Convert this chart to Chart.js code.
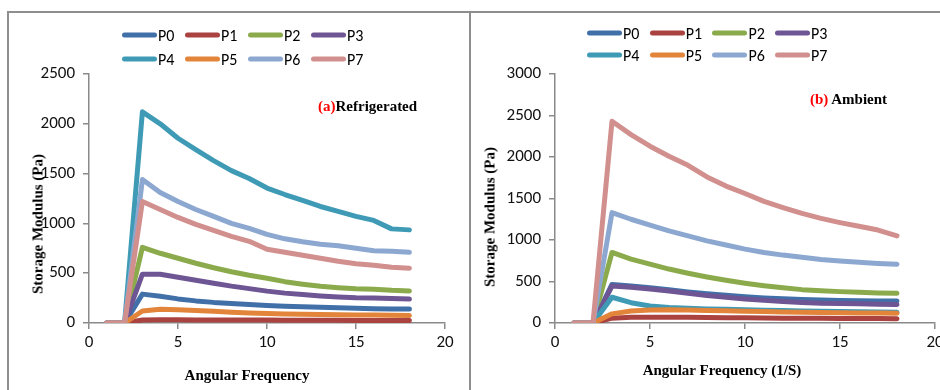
<!DOCTYPE html>
<html>
<head>
<meta charset="utf-8">
<script src="https://cdn.jsdelivr.net/npm/chart.js@4/dist/chart.umd.min.js"></script>
<style>
  html, body { margin:0; padding:0; width:940px; height:390px; overflow:hidden; background:#fff; }
  .abs { position:absolute; }
  .panelL { left:7px; top:11px; width:460px; height:400px; border:2px solid #8e8e8e; box-sizing:content-box; }
  .panelR { left:469px; top:11px; width:500px; height:0; border-top:2px solid #8e8e8e; }
  .serif { font-family:"Liberation Serif","Times New Roman",serif; font-weight:bold; color:#000; white-space:nowrap; }
  .ytitle { font-size:15px; transform:translate(-50%,-50%) rotate(-90deg); }
  .xtitle { font-size:15px; transform:translate(-50%,-50%); }
  .note { font-size:15px; transform:translateY(-50%); }
  .red { color:#ff0000; }
  .leg { font-family:Carlito, Lato, "Open Sans", sans-serif; font-size:16px; color:#000; display:flex; align-items:center; transform:translateY(-50%); }
  .sw { width:35px; height:5px; border-radius:3px; margin-right:1px; }
  canvas { position:absolute; }
</style>
</head>
<body>
<div class="abs panelL"></div>
<div class="abs panelR"></div>
<div id="cL" class="abs" style="left:0;top:0;width:470px;height:390px;"><canvas id="chartL"></canvas></div>
<div id="cR" class="abs" style="left:470px;top:0;width:500px;height:390px;"><canvas id="chartR"></canvas></div>
<div class="abs serif ytitle" style="left:38px;top:224px;">Storage Modulus (Pa)</div>
<div class="abs serif ytitle" style="left:490px;top:217px;">Storage Modulus (Pa)</div>
<div class="abs serif xtitle" style="left:247px;top:375px;">Angular Frequency</div>
<div class="abs serif xtitle" style="left:722px;top:370px;">Angular Frequency (1/S)</div>
<div class="abs serif note" style="left:318px;top:106px;"><span class="red">(a)</span>Refrigerated</div>
<div class="abs serif note" style="left:810px;top:99px;"><span class="red">(b)</span> Ambient</div>
<div id="legL"></div>
<div id="legR"></div>
<script>
// ---- data ----
const xValues = [1,2,3,4,5,6,7,8,9,10,11,12,13,14,15,16,17,18];
const seriesNames = ['P0','P1','P2','P3','P4','P5','P6','P7'];
const seriesColors = ['#4170A9','#AA4240','#8BAA4B','#6E5593','#3F9BB5','#E2843A','#8CA8D0','#D18F8D'];

// (a) Refrigerated
const refP0 = [0,0,290,268,242,222,207,196,186,176,168,162,157,152,147,143,140,140];
const refP1 = [0,0,30,32,32,31,30,30,29,29,28,28,27,27,26,26,25,25];
const refP2 = [0,0,760,700,650,600,555,515,480,450,415,390,368,355,343,338,328,322];
const refP3 = [0,0,490,490,460,430,400,370,345,320,300,285,272,262,253,250,246,240];
const refP4 = [0,0,2120,2000,1855,1740,1630,1530,1450,1355,1290,1230,1170,1120,1070,1030,945,935];
const refP5 = [0,0,120,137,133,126,117,108,101,96,91,88,85,83,81,80,78,76];
const refP6 = [0,0,1440,1310,1220,1140,1070,1000,950,890,845,815,790,775,750,725,720,710];
const refP7 = [0,0,1220,1140,1060,990,930,870,820,740,710,680,650,620,595,580,560,550];

// (b) Ambient
const ambP0 = [0,0,465,445,425,400,375,352,333,316,302,292,283,277,272,268,266,264];
const ambP1 = [0,0,58,68,70,70,68,66,64,62,60,58,57,56,55,54,53,52];
const ambP2 = [0,0,850,770,710,650,600,555,515,480,450,425,402,388,378,370,362,358];
const ambP3 = [0,0,445,430,410,385,358,330,310,290,275,260,247,238,235,232,226,222];
const ambP4 = [0,0,310,245,205,188,178,170,165,160,155,150,146,142,139,136,133,130];
const ambP5 = [0,0,110,145,157,160,157,152,148,143,138,134,130,127,124,121,119,117];
const ambP6 = [0,0,1330,1250,1180,1110,1050,990,940,890,850,818,792,766,748,732,718,708];
const ambP7 = [0,0,2430,2270,2130,2010,1900,1760,1650,1560,1465,1390,1320,1260,1210,1165,1120,1050];

const xTicks = [0,5,10,15,20];
const refYTicks = [0,500,1000,1500,2000,2500];
const ambYTicks = [0,500,1000,1500,2000,2500,3000];

const refSeries = [refP0,refP1,refP2,refP3,refP4,refP5,refP6,refP7];
const ambSeries = [ambP0,ambP1,ambP2,ambP3,ambP4,ambP5,ambP6,ambP7];

// ---- chart ----
const tickFont = { family: "Carlito, Lato, 'Open Sans', sans-serif", size: 17 };

function makeDatasets(series){
  return series.map((vals,i)=>({
    label: seriesNames[i],
    data: xValues.map((x,j)=>({x:x, y:vals[j]})),
    borderColor: seriesColors[i],
    backgroundColor: seriesColors[i],
    borderWidth: 5,
    borderCapStyle: 'round',
    borderJoinStyle: 'round',
    pointRadius: 0,
    tension: 0,
    order: seriesNames.length - 1 - i
  }));
}

function makeChart(id, series, yTicks, padding){
  const yMax = yTicks[yTicks.length-1];
  return new Chart(document.getElementById(id), {
    type: 'line',
    data: { datasets: makeDatasets(series) },
    options: {
      responsive: true,
      maintainAspectRatio: false,
      animation: false,
      layout: { padding: padding },
      plugins: { legend: { display:false }, tooltip: { enabled:false } },
      scales: {
        x: {
          type: 'linear', min: xTicks[0], max: xTicks[xTicks.length-1],
          afterBuildTicks: s => { s.ticks = xTicks.map(v=>({value:v})); },
          afterFit: s => { s.height = 32; },
          border: { color:'#8a8a8a', width:1.5 },
          grid: { drawOnChartArea:false, drawTicks:true, tickLength:6, color:'#8a8a8a', lineWidth:1.5 },
          ticks: { padding: 4, maxRotation:0, color:'#111', font: tickFont, callback: v => String(v) }
        },
        y: {
          type: 'linear', min: 0, max: yMax,
          afterBuildTicks: s => { s.ticks = yTicks.map(v=>({value:v})); },
          afterFit: s => { s.width = 60; },
          border: { color:'#8a8a8a', width:1.5 },
          grid: { drawOnChartArea:false, drawTicks:true, tickLength:6, color:'#8a8a8a', lineWidth:1.5 },
          ticks: { padding: 8, color:'#111', font: tickFont, callback: v => String(v) }
        }
      }
    }
  });
}

makeChart('chartL', refSeries, refYTicks, {left:29, right:25, top:74, bottom:35});
makeChart('chartR', ambSeries, ambYTicks, {left:25, right:35, top:74, bottom:35});

// ---- legends ----
function buildLegend(el, x0, dx, y1, y2){
  seriesNames.forEach((n,i)=>{
    const d = document.createElement('div');
    d.className = 'abs leg';
    d.style.left = (x0 + (i%4)*dx) + 'px';
    d.style.top = (i<4 ? y1 : y2) + 'px';
    d.innerHTML = '<span class="sw" style="background:'+seriesColors[i]+'"></span>'+n;
    el.appendChild(d);
  });
}
buildLegend(document.getElementById('legL'), 122, 63, 35, 59);
buildLegend(document.getElementById('legR'), 587, 62.7, 33, 55);
</script>
</body>
</html>
